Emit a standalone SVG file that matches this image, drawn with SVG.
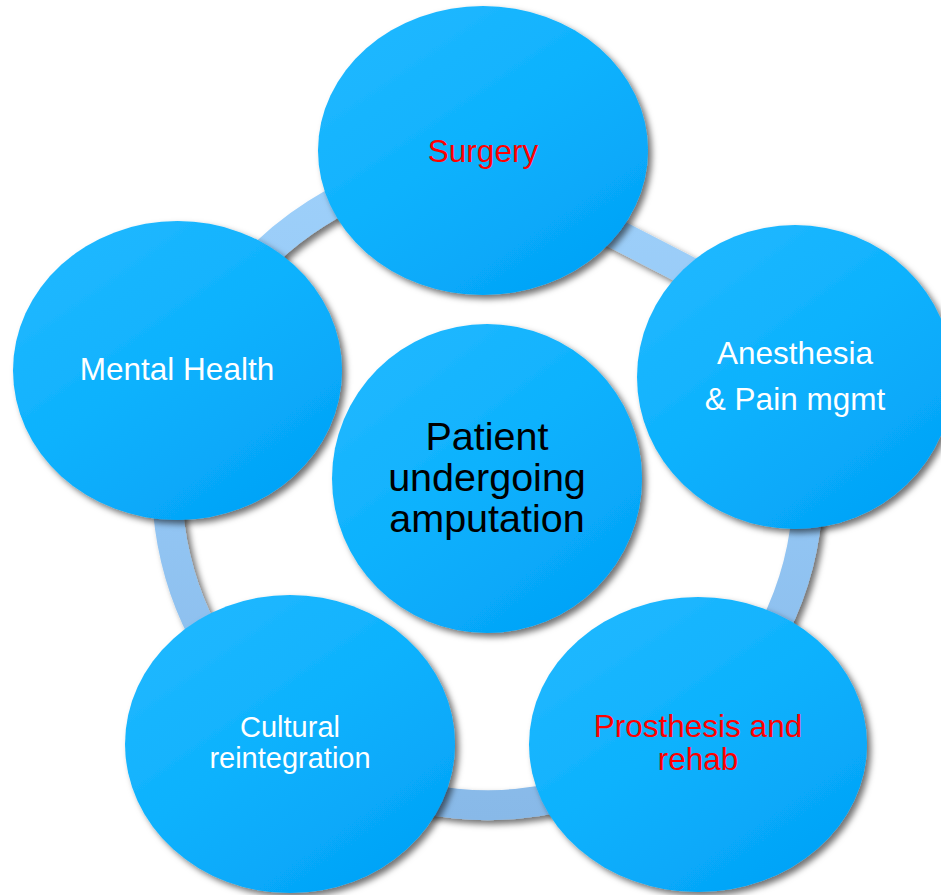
<svg xmlns="http://www.w3.org/2000/svg" width="941" height="895" viewBox="0 0 941 895">
  <defs>
    <linearGradient id="nodeFill" x1="0.15" y1="0.05" x2="0.85" y2="0.95">
      <stop offset="0" stop-color="#22b8ff"/>
      <stop offset="0.45" stop-color="#0db2fd"/>
      <stop offset="1" stop-color="#03a2f7"/>
    </linearGradient>
    <linearGradient id="ringFill" gradientUnits="userSpaceOnUse" x1="0" y1="160" x2="0" y2="820">
      <stop offset="0" stop-color="#9ed0fa"/>
      <stop offset="0.5" stop-color="#93c6f4"/>
      <stop offset="1" stop-color="#88b9e8"/>
    </linearGradient>
    <filter id="shadow" x="-20%" y="-20%" width="140%" height="140%">
      <feGaussianBlur in="SourceAlpha" stdDeviation="3"/>
      <feOffset dx="4" dy="4" result="b"/>
      <feFlood flood-color="#000" flood-opacity="0.55"/>
      <feComposite in2="b" operator="in"/>
      <feMerge>
        <feMergeNode/>
        <feMergeNode in="SourceGraphic"/>
      </feMerge>
    </filter>
  </defs>
  <style>
    .node { fill: url(#nodeFill); filter: url(#shadow); }
    .ring { fill: none; stroke: url(#ringFill); stroke-width: 30; filter: url(#shadow); }
    .lbl { font-family: "Liberation Sans", Arial, sans-serif; text-anchor: middle; }
    .w { fill: #ffffff; }
    .r { fill: #ff0000; }
    .k { fill: #000000; }
  </style>

  <g id="connectors">
    <path class="ring" d="M431.9,168.8 A320.6,320.6 0 1 0 788.9,374.8"/>
    <path class="ring" d="M560,205 L740,298"/>
  </g>

  <g id="node-surgery">
    <ellipse class="node" cx="483" cy="150.5" rx="165" ry="144.5"/>
    <text class="lbl r" x="483" y="162" font-size="31.5">Surgery</text>
  </g>

  <g id="node-mental">
    <ellipse class="node" cx="177.5" cy="370.5" rx="164.5" ry="149.5"/>
    <text class="lbl w" x="177" y="380" font-size="31.5">Mental Health</text>
  </g>

  <g id="node-anesthesia">
    <ellipse class="node" cx="795" cy="377" rx="158" ry="152"/>
    <text class="lbl w" x="795" y="364" font-size="31.5">Anesthesia</text>
    <text class="lbl w" x="795" y="410" font-size="31.5">&amp; Pain mgmt</text>
  </g>

  <g id="node-center">
    <ellipse class="node" cx="487" cy="478.5" rx="155" ry="154.5"/>
    <text class="lbl k" x="487" y="450" font-size="39.5">Patient</text>
    <text class="lbl k" x="487" y="491" font-size="39.5">undergoing</text>
    <text class="lbl k" x="487" y="532" font-size="39.5">amputation</text>
  </g>

  <g id="node-cultural">
    <ellipse class="node" cx="290" cy="744" rx="165" ry="149"/>
    <text class="lbl w" x="290" y="737" font-size="29">Cultural</text>
    <text class="lbl w" x="290" y="768" font-size="29">reintegration</text>
  </g>

  <g id="node-prosthesis">
    <ellipse class="node" cx="698" cy="744.5" rx="169" ry="147.5"/>
    <text class="lbl r" x="698" y="737" font-size="31.5">Prosthesis and</text>
    <text class="lbl r" x="698" y="770" font-size="31.5">rehab</text>
  </g>
</svg>
